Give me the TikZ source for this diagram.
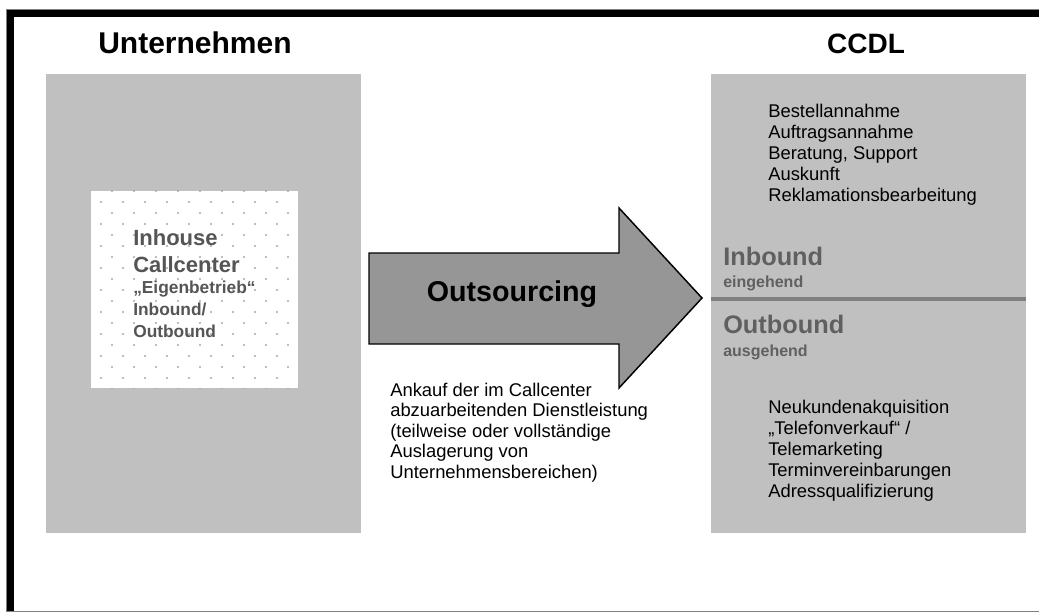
\documentclass[tikz,border=0pt]{standalone}
\usepackage{fontspec}
\setmainfont{Liberation Sans}
\usetikzlibrary{positioning}

\definecolor{boxgray}{HTML}{C0C0C0}
\definecolor{arrowgray}{HTML}{969696}
\definecolor{insetgray}{HTML}{555555}
\definecolor{labelgray}{HTML}{606060}
\definecolor{dotgray}{HTML}{A8A8A8}
\definecolor{rulegray}{HTML}{808080}

\tikzset{
  panel/.style={fill=boxgray, draw=none, inner sep=0pt,
    minimum width=236.25pt, minimum height=344.25pt},
  heading/.style={font=\fontsize{21}{25}\selectfont\bfseries, anchor=base, inner sep=0pt},
  item/.style={font=\fontsize{13.8}{16}\selectfont, anchor=base west, inner sep=0pt},
  insetbig/.style={font=\fontsize{16.5}{20}\selectfont\bfseries, text=insetgray,
    anchor=base west, inner sep=0pt},
  insetsmall/.style={insetbig, font=\fontsize{13}{16}\selectfont\bfseries},
  dirbig/.style={font=\fontsize{19}{23}\selectfont\bfseries, text=labelgray,
    anchor=base west, inner sep=0pt},
  dirsmall/.style={dirbig, font=\fontsize{12}{14}\selectfont\bfseries}
}

\begin{document}
\begin{tikzpicture}[x=0.75pt, y=-0.75pt]
\useasboundingbox (0,0) rectangle (1039,612);

% frame
\draw[rulegray, line width=0.75pt] (6,9) rectangle (1050,611);
\fill[black] (7,10) rectangle (1039,17);
\fill[black] (7,10) rectangle (14,611);

% the two sides
\node[panel] (firm) at (203.5,303.5) {};
\node[panel] (ccdl) at (868.5,303.5) {};
\node[heading, font=\fontsize{22.5}{27}\selectfont\bfseries] (firmhead) at (195,53) {Unternehmen};
\node[heading] (ccdlhead) at (866,53) {CCDL};

% inhouse callcenter, dotted
\node[fill=white, inner sep=0pt, minimum width=155.25pt, minimum height=147.75pt]
  (inhouse) at (194.5,289.5) {};
\begin{scope}
\clip (inhouse.south west) rectangle (inhouse.north east);
\foreach \j in {0,...,18}
  \foreach \i in {0,...,10}
    \fill[dotgray] ({90+22*\i+11*mod(\j,2)},{191+11*\j}) circle (0.8pt);
\end{scope}
\node[insetbig] (ih-1) at (133,245) {Inhouse};
\node[insetbig] (ih-2) at (133,272) {Callcenter};
\node[insetsmall] (ih-3) at (133,293) {„Eigenbetrieb“};
\node[insetsmall] (ih-4) at (133,315) {Inbound/};
\node[insetsmall] (ih-5) at (133,337) {Outbound};

% outsourcing arrow
\draw[fill=arrowgray, line width=1.1pt, line join=miter]
  (369,253) -- (619,253) -- (619,208) -- (702,298)
  -- (619,388) -- (619,344) -- (369,344) -- cycle;
\node[font=\fontsize{21.5}{26}\selectfont\bfseries, anchor=base, inner sep=0pt]
  (outsrc) at (512,301) {Outsourcing};
\foreach \t [count=\i from 0] in {{Ankauf der im Callcenter},
    {abzuarbeitenden Dienstleistung}, {(teilweise oder vollständige},
    {Auslagerung von}, {Unternehmensbereichen)}}
  \node[item] (note-\i) at (390,{396+20.5*\i}) {\t};

% inbound tasks
\foreach \t [count=\i from 0] in {Bestellannahme, Auftragsannahme,
    {Beratung, Support}, Auskunft, Reklamationsbearbeitung}
  \node[item] (inb-\i) at (768,{117+21.2*\i}) {\t};
\node[dirbig] (inbound) at (723,265) {Inbound};
\node[dirsmall] (inbsub) at (723,287) {eingehend};

\draw[rulegray, line width=3pt] (ccdl.west |- 0,299) -- (ccdl.east |- 0,299);

% outbound tasks
\node[dirbig] (outbound) at (723,333) {Outbound};
\node[dirsmall] (outsub) at (723,356) {ausgehend};
\foreach \t [count=\i from 0] in {Neukundenakquisition, {„Telefonverkauf“ /},
    Telemarketing, Terminvereinbarungen, Adressqualifizierung}
  \node[item] (outb-\i) at (768,{413+21*\i}) {\t};
\end{tikzpicture}
\end{document}
